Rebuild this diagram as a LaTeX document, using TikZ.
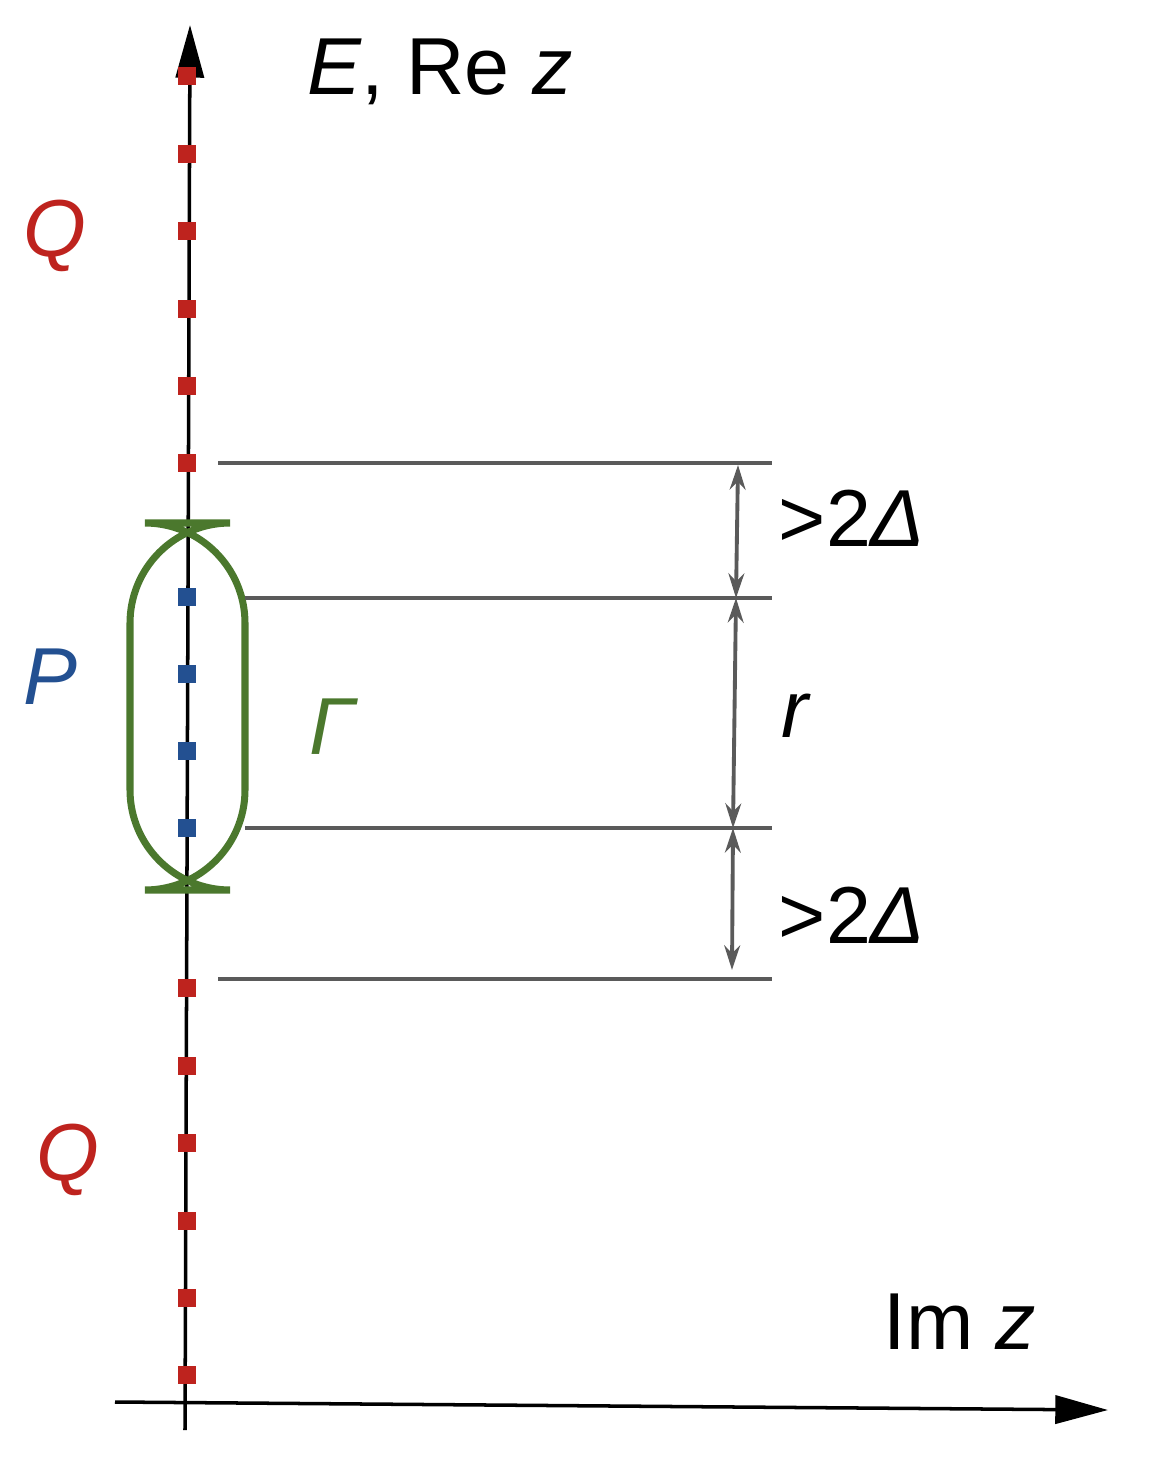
\documentclass[tikz,border=0pt]{standalone}
\usepackage{fontspec}
\setmainfont{Liberation Sans}
\usetikzlibrary{arrows.meta}
\definecolor{qred}{RGB}{190,35,30}
\definecolor{pblue}{RGB}{35,80,145}
\definecolor{ggreen}{RGB}{75,120,45}
\definecolor{lgray}{RGB}{90,90,90}
\tikzset{
  lbl/.style={font=\fontsize{46}{50}\selectfont, inner sep=0pt},
  qdot/.style={fill=qred, minimum size=10.5pt, inner sep=0pt},
  pdot/.style={fill=pblue, minimum size=10.5pt, inner sep=0pt},
  level/.style={lgray, line width=1.8pt},
  gap/.style={lgray, line width=2.2pt, {Stealth[length=14pt,width=9pt]}-{Stealth[length=14pt,width=9pt]}}
}
\begin{document}
\begin{tikzpicture}[x=0.02cm,y=-0.02cm]
\useasboundingbox (0,0) rectangle (1152,1458);
% the axes
\coordinate (ybot) at (185,1430);
\coordinate (ytop) at (190,25);
\coordinate (xleft) at (115,1402);
\coordinate (xright) at (1108,1410);
\draw[line width=2pt, -{Triangle[length=30pt,width=16pt]}] (ybot) -- (ytop);
\draw[line width=2pt, -{Triangle[length=30pt,width=16pt]}] (xleft) -- (xright);

% the levels
\foreach \y in {76,154,231,309,386,463,988,1066,1143,1221,1298,1375}
    {\node[qdot] (q\y) at (187,\y) {};};
\foreach \y in {597,674,751,828}
    {\node[pdot] (p\y) at (187,\y) {};};

% the contour
\draw[ggreen, line width=4pt, rounded corners=57pt] (130,523) rectangle (245,890);

% the spacings
\coordinate (a1) at (218,463); \coordinate (b1) at (772,463);
\coordinate (a2) at (245,598); \coordinate (b2) at (772,598);
\coordinate (a3) at (245,828); \coordinate (b3) at (772,828);
\coordinate (a4) at (218,979); \coordinate (b4) at (772,979);
\draw[level] (a1) -- (b1);
\draw[level] (a2) -- (b2);
\draw[level] (a3) -- (b3);
\draw[level] (a4) -- (b4);
\coordinate (g1) at (738,465); \coordinate (g2) at (736,598);
\coordinate (g3) at (733,828); \coordinate (g4) at (732,970);
\draw[gap] (g1) -- (g2);
\draw[gap] (g2) -- (g3);
\draw[gap] (g3) -- (g4);

% the labels
\node[lbl] (ere) at (440,72) {\itshape E\upshape, Re \itshape z};
\node[lbl, text=qred] (qup) at (55,236) {\itshape Q};
\node[lbl, text=qred] (qdown) at (68,1160) {\itshape Q};
\node[lbl, text=pblue] (plbl) at (50,677) {\itshape P};
\node[lbl, text=ggreen] (gam) at (333,727) {\itshape Γ};
\node[lbl] (d1) at (852,518) {>2\itshape Δ};
\node[lbl] (rlbl) at (795,716) {\itshape r};
\node[lbl] (d2) at (852,915) {>2\itshape Δ};
\node[lbl] (imz) at (960,1322) {Im \itshape z};
\end{tikzpicture}
\end{document}
